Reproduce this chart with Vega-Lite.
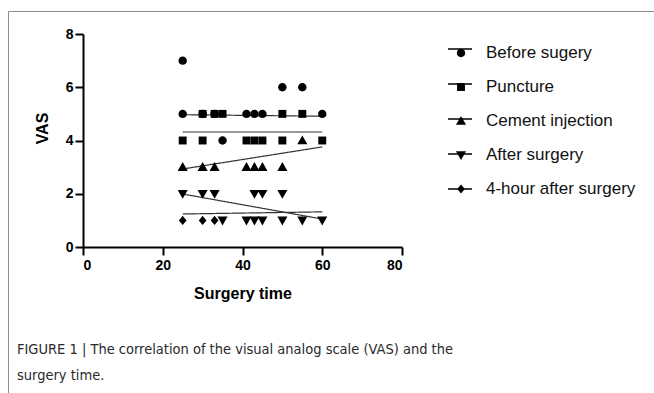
{
  "$schema": "https://vega.github.io/schema/vega-lite/v6.json",
  "autosize": {"type": "none"},
  "padding": {"left": 8, "top": 11, "right": 0, "bottom": 0},
  "width": 646,
  "height": 382,
  "background": "white",
  "config": {
    "view": {"stroke": "#8c8c8c", "strokeWidth": 1},
    "font": "Liberation Sans"
  },
  "title": {
    "text": ["FIGURE 1 | The correlation of the visual analog scale (VAS) and the", "surgery time."],
    "orient": "bottom",
    "anchor": "start",
    "frame": "group",
    "offset": -39,
    "dx": 9,
    "baseline": "alphabetic",
    "font": "DejaVu Sans Condensed, Roboto",
    "fontSize": 14.5,
    "fontWeight": "normal",
    "lineHeight": 26,
    "color": "#2a2a2a"
  },
  "datasets": {
    "points": [
      {"series": "Before sugery", "x": 25, "y": 7},
      {"series": "Before sugery", "x": 25, "y": 5},
      {"series": "Before sugery", "x": 30, "y": 5},
      {"series": "Before sugery", "x": 33, "y": 5},
      {"series": "Before sugery", "x": 35, "y": 4},
      {"series": "Before sugery", "x": 41, "y": 5},
      {"series": "Before sugery", "x": 43, "y": 5},
      {"series": "Before sugery", "x": 45, "y": 5},
      {"series": "Before sugery", "x": 50, "y": 6},
      {"series": "Before sugery", "x": 55, "y": 6},
      {"series": "Before sugery", "x": 60, "y": 5},
      {"series": "Puncture", "x": 30, "y": 5},
      {"series": "Puncture", "x": 33, "y": 5},
      {"series": "Puncture", "x": 35, "y": 5},
      {"series": "Puncture", "x": 50, "y": 5},
      {"series": "Puncture", "x": 55, "y": 5},
      {"series": "Puncture", "x": 25, "y": 4},
      {"series": "Puncture", "x": 30, "y": 4},
      {"series": "Puncture", "x": 41, "y": 4},
      {"series": "Puncture", "x": 43, "y": 4},
      {"series": "Puncture", "x": 45, "y": 4},
      {"series": "Puncture", "x": 50, "y": 4},
      {"series": "Puncture", "x": 60, "y": 4},
      {"series": "Cement injection", "x": 25, "y": 3},
      {"series": "Cement injection", "x": 30, "y": 3},
      {"series": "Cement injection", "x": 33, "y": 3},
      {"series": "Cement injection", "x": 41, "y": 3},
      {"series": "Cement injection", "x": 43, "y": 3},
      {"series": "Cement injection", "x": 45, "y": 3},
      {"series": "Cement injection", "x": 50, "y": 3},
      {"series": "Cement injection", "x": 55, "y": 4},
      {"series": "4-hour after surgery", "x": 25, "y": 1},
      {"series": "4-hour after surgery", "x": 30, "y": 1},
      {"series": "4-hour after surgery", "x": 33, "y": 1},
      {"series": "After surgery", "x": 25, "y": 2},
      {"series": "After surgery", "x": 30, "y": 2},
      {"series": "After surgery", "x": 33, "y": 2},
      {"series": "After surgery", "x": 43, "y": 2},
      {"series": "After surgery", "x": 45, "y": 2},
      {"series": "After surgery", "x": 50, "y": 2},
      {"series": "After surgery", "x": 35, "y": 1},
      {"series": "After surgery", "x": 41, "y": 1},
      {"series": "After surgery", "x": 43, "y": 1},
      {"series": "After surgery", "x": 45, "y": 1},
      {"series": "After surgery", "x": 50, "y": 1},
      {"series": "After surgery", "x": 55, "y": 1},
      {"series": "After surgery", "x": 60, "y": 1}
    ],
    "fits": [
      {"fit": "Before sugery (fit)", "x": 25, "y": 4.97},
      {"fit": "Before sugery (fit)", "x": 60, "y": 4.91},
      {"fit": "Puncture (fit)", "x": 25, "y": 4.32},
      {"fit": "Puncture (fit)", "x": 60, "y": 4.32},
      {"fit": "Cement injection (fit)", "x": 25, "y": 2.93},
      {"fit": "Cement injection (fit)", "x": 60, "y": 3.76},
      {"fit": "After surgery (fit)", "x": 25, "y": 1.99},
      {"fit": "After surgery (fit)", "x": 60, "y": 1.05},
      {"fit": "4-hour after surgery (fit)", "x": 25, "y": 1.24},
      {"fit": "4-hour after surgery (fit)", "x": 60, "y": 1.32}
    ]
  },
  "layer": [
    {
      "data": {"name": "fits"},
      "mark": {"type": "line", "color": "#333333", "strokeWidth": 1.2},
      "encoding": {
        "x": {
          "field": "x", "type": "quantitative",
          "scale": {"domain": [0, 80], "range": [75, 394], "nice": false, "zero": false},
          "axis": {
            "title": "Surgery time",
            "offset": -146,
            "values": [0, 20, 40, 60, 80],
            "grid": false,
            "domainColor": "black", "domainWidth": 2,
            "tickColor": "black", "tickWidth": 2, "tickSize": 8,
            "labelFont": "Liberation Sans", "labelFontSize": 14, "labelFontWeight": "bold", "labelColor": "black",
            "labelPadding": 3,
            "titleFont": "Liberation Sans", "titleFontSize": 16, "titleFontWeight": "bold", "titleColor": "black",
            "titlePadding": 13
          }
        },
        "y": {
          "field": "y", "type": "quantitative",
          "scale": {"domain": [0, 8], "range": [236, 23], "nice": false, "zero": false},
          "axis": {
            "title": "VAS",
            "offset": -75,
            "values": [0, 2, 4, 6, 8],
            "grid": false,
            "domainColor": "black", "domainWidth": 2,
            "tickColor": "black", "tickWidth": 2, "tickSize": 8,
            "labelFont": "Liberation Sans", "labelFontSize": 14, "labelFontWeight": "bold", "labelColor": "black",
            "labelPadding": 2,
            "titleFont": "Liberation Sans", "titleFontSize": 16, "titleFontWeight": "bold", "titleColor": "black",
            "titleX": -33, "titleY": 117
          }
        },
        "strokeDash": {
          "field": "fit", "type": "nominal",
          "scale": {
            "domain": ["Before sugery (fit)", "Puncture (fit)", "Cement injection (fit)", "After surgery (fit)", "4-hour after surgery (fit)"],
            "range": [[1, 0], [1, 0], [1, 0], [1, 0], [1, 0]]
          },
          "legend": {
            "title": null,
            "orient": "none",
            "legendX": 439,
            "legendY": 25,
            "padding": 0,
            "symbolType": "stroke",
            "symbolSize": 576,
            "symbolStrokeColor": "black",
            "symbolStrokeWidth": 1.5,
            "labelFont": "Liberation Sans",
            "labelFontSize": 17,
            "labelExpr": "''",
            "labelOffset": 11,
            "rowPadding": 14
          }
        }
      }
    },
    {
      "data": {"name": "points"},
      "mark": {"type": "point", "filled": true, "color": "black", "opacity": 1, "size": 576},
      "encoding": {
        "x": {"field": "x", "type": "quantitative"},
        "y": {"field": "y", "type": "quantitative"},
        "shape": {
          "field": "series", "type": "nominal",
          "scale": {
            "domain": ["Before sugery", "Puncture", "Cement injection", "After surgery", "4-hour after surgery"],
            "range": [
              "M0.35,0A0.35,0.35 0 1,1 -0.35,0A0.35,0.35 0 1,1 0.35,0Z",
              "M-0.33,-0.33H0.33V0.33H-0.33Z",
              "M0,-0.42L0.42,0.32H-0.42Z",
              "M0,0.42L0.42,-0.32H-0.42Z",
              "M0,-0.38L0.32,0L0,0.38L-0.32,0Z"
            ]
          },
          "legend": {
            "title": null,
            "orient": "none",
            "legendX": 441,
            "legendY": 30,
            "padding": 0,
            "symbolSize": 576,
            "symbolFillColor": "black",
            "symbolStrokeWidth": 0,
            "labelFont": "Liberation Sans",
            "labelFontSize": 17,
            "labelColor": "#111111",
            "labelOffset": 13,
            "rowPadding": 14,
            "labelLimit": 300
          }
        }
      }
    }
  ]
}
